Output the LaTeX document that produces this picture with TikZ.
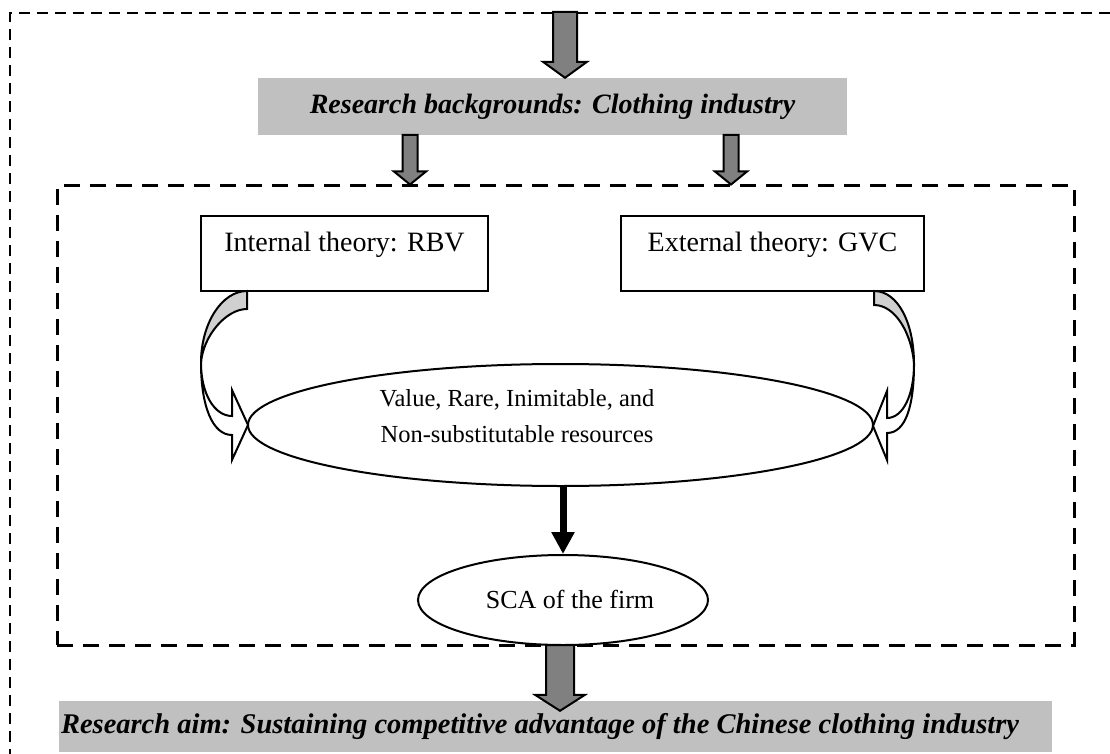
\documentclass[tikz,border=0pt]{standalone}
\usepackage{fontspec}
\setmainfont{Liberation Serif}
\usetikzlibrary{shapes.geometric,arrows.meta,calc}
\definecolor{boxgray}{RGB}{192,192,192}
\definecolor{arrowgray}{RGB}{128,128,128}
\definecolor{ribbongray}{RGB}{208,208,208}

% Down-pointing block arrow: x and top from #1, tip height from #2,
% shaft half width #3, head half width #4, head length #5 (all in pt)
\newcommand{\blockdown}[5]{%
  \path[blockarrow] let \p1=(#1), \p2=(#2) in
    (\x1-#3pt,\y1) -- (\x1+#3pt,\y1) -- (\x1+#3pt,\y2+#5pt) -- (\x1+#4pt,\y2+#5pt)
    -- (\x1,\y2) -- (\x1-#4pt,\y2+#5pt) -- (\x1-#3pt,\y2+#5pt) -- cycle;}

\begin{document}
\begin{tikzpicture}[x=1pt,y=-1pt,
  every node/.style={font=\fontsize{28}{36}\selectfont, inner sep=0pt},
  heading/.style={font=\fontsize{28}{36}\selectfont\bfseries\itshape},
  graybox/.style={rectangle, fill=boxgray, heading},
  theorybox/.style={rectangle, draw, line width=2pt},
  oval/.style={ellipse, draw, line width=2pt},
  framebox/.style={rectangle, draw, line width=3pt, dash pattern=on 16pt off 10pt},
  outerframe/.style={line width=2.6pt, dash pattern=on 11pt off 7pt},
  blockarrow/.style={draw, line width=2pt, fill=arrowgray, line join=miter},
  ribbon/.style={draw, line width=2pt, line join=miter},
  ribbonback/.style={fill=ribbongray},
]
\path[use as bounding box] (0,0) rectangle (1110,754);

% outer frame
\draw[outerframe] (1110,13) -- (10,13) -- (10,754);

% boxes
\node[graybox, minimum width=589pt, minimum height=57pt] (bg) at (552.5,106.5)
  {Research backgrounds: Clothing industry};
\node[framebox, minimum width=1017pt, minimum height=459pt] (frame) at (565.5,415.5) {};

\node[theorybox, minimum width=287pt, minimum height=75pt] (internal) at (344.5,253.5) {};
\node[anchor=base] (internaltext) at ([yshift=-36pt]internal.north) {Internal theory: RBV};
\node[theorybox, minimum width=303pt, minimum height=75pt] (external) at (772.5,253.5) {};
\node[anchor=base] (externaltext) at ([yshift=-36pt]external.north) {External theory: GVC};

\node[oval, minimum width=625pt, minimum height=122pt] (vrin) at (560.5,425) {};
\node[align=center, font=\fontsize{24.5}{36}\selectfont] (vrintext) at (517,416)
  {Value, Rare, Inimitable, and\\Non-substitutable resources};
\node[oval, minimum width=290pt, minimum height=90pt] (sca) at (563,600) {};
\node[font=\fontsize{26}{32}\selectfont] (scatext) at (570,599) {SCA of the firm};

\node[graybox, minimum width=993pt, minimum height=51pt] (aim) at (555.5,726.5) {};
\node[heading, font=\fontsize{28.5}{36}\selectfont\bfseries\itshape, anchor=west] (aimtext)
  at ([xshift=2pt]aim.west)
  {Research aim: Sustaining competitive advantage of the Chinese clothing industry};

% block arrows
\coordinate (feed) at (565,12);
\coordinate (splitL) at (410,135);
\coordinate (splitR) at (731,135);
\coordinate (outlet) at (560,645);
\blockdown{feed}{bg.north}{12}{22}{16}
\blockdown{splitL}{frame.north}{7.5}{16}{13}
\blockdown{splitR}{frame.north}{7.5}{16}{13}
\blockdown{outlet}{[yshift=-10pt]aim.north}{14}{25}{16}

% resources lead to SCA
\draw[line width=7pt, -{Triangle[width=22pt,length=22pt]}] (sca.north |- vrin.south) -- (sca.north);

% left curved ribbon arrow (RBV)
\fill[ribbonback] (247,291) .. controls (222,291) and (201,323) .. (201,363)
  .. controls (203,336) and (226,309) .. (247,309) -- cycle;
\draw[ribbon] (247,291) .. controls (222,291) and (201,323) .. (201,363)
  .. controls (201,393) and (214,416) .. (232,416) -- (232,390) -- (248,425)
  -- (232,460) -- (232,435) .. controls (212,435) and (201,405) .. (201,363)
  .. controls (203,336) and (226,309) .. (247,309) -- cycle;

% right curved ribbon arrow (GVC)
\fill[ribbonback] (874,291) .. controls (898,291) and (914,323) .. (914,364)
  .. controls (912,335) and (896,305) .. (874,305) -- cycle;
\draw[ribbon] (874,291) .. controls (898,291) and (914,323) .. (914,364)
  .. controls (914,395) and (903,418) .. (887,418) -- (887,391) -- (873,426)
  -- (887,460) -- (887,433) .. controls (906,433) and (914,405) .. (914,364)
  .. controls (912,335) and (896,305) .. (874,305) -- cycle;
\end{tikzpicture}
\end{document}
